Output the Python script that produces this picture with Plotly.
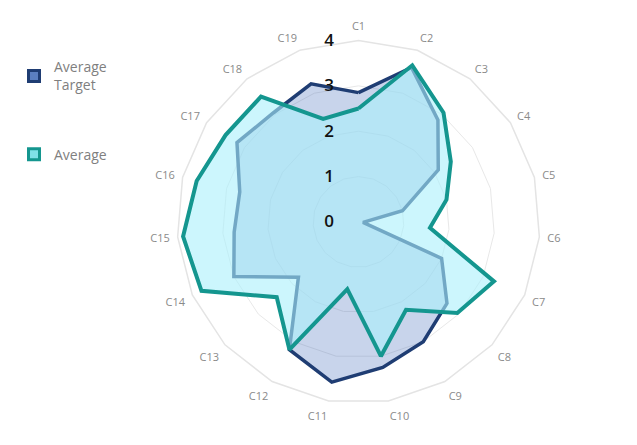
import plotly.graph_objects as go

categories = ["C1", "C2", "C3", "C4", "C5", "C6", "C7", "C8", "C9", "C10",
              "C11", "C12", "C13", "C14", "C15", "C16", "C17", "C18", "C19"]
average_target = [2.85, 3.6, 2.85, 2.1, 1.0, 0.1, 2.0, 2.65, 3.0, 3.25,
                  3.58, 3.2, 1.8, 3.0, 2.75, 2.7, 3.2, 3.05, 3.22]
average = [2.5, 3.65, 3.05, 2.43, 2.0, 1.58, 3.26, 2.96, 2.2, 3.0,
           1.5, 3.2, 2.45, 3.78, 3.88, 3.68, 3.5, 3.5, 2.4]
radial_ticks = [0, 1, 2, 3, 4]

TARGET_LINE = "#1f3d73"
TARGET_FILL = "rgba(35,83,175,0.25)"
AVG_LINE = "#14968f"
AVG_FILL = "rgba(170,240,252,0.6)"

fig = go.Figure()
fig.add_trace(go.Scatterpolar(
    r=average_target + [average_target[0]],
    theta=categories + [categories[0]],
    name="Average<br>Target", showlegend=False,
    mode="lines", fill="toself", fillcolor=TARGET_FILL,
    line=dict(color=TARGET_LINE, width=3.5),
))
fig.add_trace(go.Scatterpolar(
    r=average + [average[0]],
    theta=categories + [categories[0]],
    name="Average", showlegend=False,
    mode="lines", fill="toself", fillcolor=AVG_FILL,
    line=dict(color=AVG_LINE, width=4),
))
# legend-only entries with square icons
fig.add_trace(go.Scatterpolar(
    r=[None], theta=[None], name="Average<br>Target", legendgroup="a",
    mode="markers",
    marker=dict(symbol="square", size=11, color="#5b7fc0",
                line=dict(color=TARGET_LINE, width=3)),
))
fig.add_trace(go.Scatterpolar(
    r=[None], theta=[None], name="Average", legendgroup="b",
    mode="markers",
    marker=dict(symbol="square", size=11, color="#7fe0e8",
                line=dict(color=AVG_LINE, width=3)),
))

fig.update_layout(
    width=637, height=445, autosize=False,
    margin=dict(l=0, r=0, t=0, b=0),
    paper_bgcolor="white",
    font=dict(family="Open Sans", color="#7f7f7f"),
    polar=dict(
        domain=dict(x=[0.2779, 0.8477], y=[0.0900, 0.9125]),
        bgcolor="white",
        gridshape="linear",
        angularaxis=dict(
            direction="clockwise", rotation=90,
            showgrid=False, showline=True, linecolor="#e4e4e4", linewidth=1.5,
            ticks="outside", ticklen=5, tickcolor="rgba(0,0,0,0)",
            tickfont=dict(size=11, color="#8a8a8a", family="Open Sans"),
        ),
        radialaxis=dict(
            range=[0, 4], tickvals=radial_ticks, angle=90, tickangle=90,
            showline=False, gridcolor="#e8e8e8", gridwidth=1,
            side="counterclockwise",
            ticks="outside", ticklen=18, tickcolor="rgba(0,0,0,0)",
            tickfont=dict(size=17, color="#111111", family="Open Sans",
                          weight=600),
        ),
    ),
    legend=dict(
        x=0.022, y=0.885, xanchor="left", yanchor="top",
        font=dict(size=14, color="#7f7f7f", family="Open Sans"),
        tracegroupgap=48, bgcolor="rgba(0,0,0,0)", itemwidth=30,
    ),
)

fig.write_html("out.html")
